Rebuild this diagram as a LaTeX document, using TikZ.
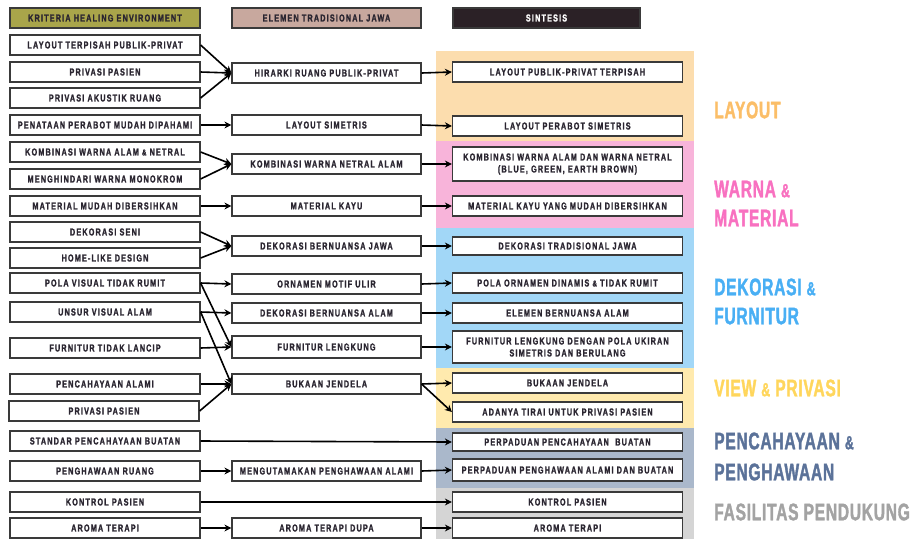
\documentclass[tikz,border=0pt]{standalone}
\usepackage{fontspec}
\setmainfont{Liberation Sans}
\newfontfamily\boxfont[FakeStretch=0.72,LetterSpace=12,FakeBold=1.6]{Liberation Sans}
\newfontfamily\catfont[FakeStretch=0.65,LetterSpace=3,FakeBold=1.5]{Liberation Sans}
\usetikzlibrary{arrows.meta}
\definecolor{textc}{HTML}{2A2530}
\definecolor{edgec}{HTML}{3A3A3A}
\definecolor{hdrA}{HTML}{A9A54A}
\definecolor{hdrB}{HTML}{C8A89E}
\definecolor{hdrC}{HTML}{2B2126}
\definecolor{bandO}{HTML}{FCDDAE}
\definecolor{bandP}{HTML}{F8B4DA}
\definecolor{bandB}{HTML}{A2D7F7}
\definecolor{bandY}{HTML}{FFEAAE}
\definecolor{bandS}{HTML}{AAB8CB}
\definecolor{bandG}{HTML}{D5D5D5}
\definecolor{catO}{HTML}{FBBE68}
\definecolor{catP}{HTML}{F871C0}
\definecolor{catB}{HTML}{49AFF4}
\definecolor{catY}{HTML}{FFD65C}
\definecolor{catS}{HTML}{5B7299}
\definecolor{catG}{HTML}{A3A3A3}
\tikzset{
  box/.style={draw=edgec, line width=1.2pt, fill=white, minimum height=20pt,
    inner sep=1pt, text=textc, align=center,
    font=\boxfont\bfseries\fontsize{10}{12}\selectfont},
  lbox/.style={box, minimum width=190pt},
  mbox/.style={box, minimum width=189pt},
  rbox/.style={box, minimum width=230pt},
  hdr/.style={box, minimum height=20pt},
  arr/.style={-{Stealth[length=7pt,width=7pt]}, line width=1.6pt, black},
  cat/.style={anchor=west, align=left, inner sep=0pt,
    font=\catfont\bfseries\fontsize{24}{29}\selectfont},
}
\newcommand{\smamp}{{\fontsize{19}{20}\selectfont\&}}
\newcommand{\bxamp}{{\fontsize{8.5}{10}\selectfont\&}}
\begin{document}
\begin{tikzpicture}[x=1pt,y=-1pt]
\useasboundingbox (0,0) rectangle (920,539);
% bands
\fill[bandO] (436,51) rectangle (694,141);
\fill[bandP] (436,141) rectangle (694,228);
\fill[bandB] (436,228) rectangle (694,368);
\fill[bandY] (436,368) rectangle (694,428);
\fill[bandS] (436,428) rectangle (694,488);
\fill[bandG] (436,488) rectangle (694,539);
% headers
\node[hdr, fill=hdrA, minimum width=190pt] (h1) at (105,18) {KRITERIA HEALING ENVIRONMENT};
\node[hdr, fill=hdrB, minimum width=189pt] (h2) at (326.5,18) {ELEMEN TRADISIONAL JAWA};
\node[hdr, fill=hdrC, minimum width=187pt, text=white] (h3) at (546.5,18) {SINTESIS};
% left column
\node[lbox] (l1) at (105,45) {LAYOUT TERPISAH PUBLIK-PRIVAT};
\node[lbox] (l2) at (105,72) {PRIVASI PASIEN};
\node[lbox] (l3) at (105,98) {PRIVASI AKUSTIK RUANG};
\node[lbox] (l4) at (105,125) {PENATAAN PERABOT MUDAH DIPAHAMI};
\node[lbox] (l5) at (105,152) {KOMBINASI WARNA ALAM \bxamp\ NETRAL};
\node[lbox] (l6) at (105,179) {MENGHINDARI WARNA MONOKROM};
\node[lbox] (l7) at (105,206) {MATERIAL MUDAH DIBERSIHKAN};
\node[lbox] (l8) at (105,232) {DEKORASI SENI};
\node[lbox] (l9) at (105,258) {HOME-LIKE DESIGN};
\node[lbox] (l10) at (105,283) {POLA VISUAL TIDAK RUMIT};
\node[lbox] (l11) at (105,312) {UNSUR VISUAL ALAM};
\node[lbox] (l12) at (105,348) {FURNITUR TIDAK LANCIP};
\node[lbox] (l13) at (105,384) {PENCAHAYAAN ALAMI};
\node[lbox] (l14) at (104,411) {PRIVASI PASIEN};
\node[lbox] (l15) at (105,441) {STANDAR PENCAHAYAAN BUATAN};
\node[lbox] (l16) at (105,471) {PENGHAWAAN RUANG};
\node[lbox] (l17) at (105,502) {KONTROL PASIEN};
\node[lbox] (l18) at (105,528) {AROMA TERAPI};
% middle column
\node[mbox] (m1) at (326.5,73) {HIRARKI RUANG PUBLIK-PRIVAT};
\node[mbox] (m2) at (326.5,125) {LAYOUT SIMETRIS};
\node[mbox] (m3) at (326.5,164) {KOMBINASI WARNA NETRAL ALAM};
\node[mbox] (m4) at (326.5,206) {MATERIAL KAYU};
\node[mbox] (m5) at (326.5,246) {DEKORASI BERNUANSA JAWA};
\node[mbox] (m6) at (326.5,284) {ORNAMEN MOTIF ULIR};
\node[mbox] (m7) at (326.5,313) {DEKORASI BERNUANSA ALAM};
\node[mbox, minimum height=22pt] (m8) at (326.5,347) {FURNITUR LENGKUNG};
\node[mbox] (m9) at (326.5,384) {BUKAAN JENDELA};
\node[mbox] (m10) at (326.5,471) {MENGUTAMAKAN PENGHAWAAN ALAMI};
\node[mbox] (m11) at (326.5,528) {AROMA TERAPI DUPA};
% right column
\node[rbox] (r1) at (567.5,72) {LAYOUT PUBLIK-PRIVAT TERPISAH};
\node[rbox] (r2) at (567.5,126) {LAYOUT PERABOT SIMETRIS};
\node[rbox, minimum height=34pt] (r3) at (567.5,164) {KOMBINASI WARNA ALAM DAN WARNA NETRAL\\(BLUE, GREEN, EARTH BROWN)};
\node[rbox] (r4) at (567.5,206) {MATERIAL KAYU YANG MUDAH DIBERSIHKAN};
\node[rbox, minimum height=18pt] (r5) at (567.5,246) {DEKORASI TRADISIONAL JAWA};
\node[rbox] (r6) at (567.5,283) {POLA ORNAMEN DINAMIS \bxamp\ TIDAK RUMIT};
\node[rbox] (r7) at (567.5,313) {ELEMEN BERNUANSA ALAM};
\node[rbox, minimum height=32pt] (r8) at (567.5,347) {FURNITUR LENGKUNG DENGAN POLA UKIRAN\\SIMETRIS DAN BERULANG};
\node[rbox] (r9) at (567.5,383) {BUKAAN JENDELA};
\node[rbox] (r10) at (567.5,412) {ADANYA TIRAI UNTUK PRIVASI PASIEN};
\node[rbox, minimum height=18pt] (r11) at (567.5,442) {PERPADUAN PENCAHAYAAN\ \ BUATAN};
\node[rbox, minimum height=22pt] (r12) at (567.5,470) {PERPADUAN PENGHAWAAN ALAMI DAN BUATAN};
\node[rbox] (r13) at (567.5,502) {KONTROL PASIEN};
\node[rbox] (r14) at (567.5,528) {AROMA TERAPI};
% categories
\node[cat, text=catO] (c1) at (714,110) {LAYOUT};
\node[cat, text=catP] (c2) at (714,203.5) {WARNA \smamp\\MATERIAL};
\node[cat, text=catB] (c3) at (714,301.5) {DEKORASI \smamp\\FURNITUR};
\node[cat, text=catY] (c4) at (714,388) {VIEW \smamp\ PRIVASI};
\node[cat, text=catS, font=\catfont\bfseries\fontsize{24}{31}\selectfont] (c5) at (714,456.5) {PENCAHAYAAN \smamp\\PENGHAWAAN};
\node[cat, text=catG] (c6) at (714,512) {FASILITAS PENDUKUNG};
% connectors left -> middle
\draw[arr] (l1.east) -- (m1.west);
\draw[arr] (l2.east) -- (m1.west);
\draw[arr] (l3.east) -- (m1.west);
\draw[arr] (l4.east) -- (m2.west);
\draw[arr] (l5.east) -- (m3.west);
\draw[arr] (l6.east) -- (m3.west);
\draw[arr] (l7.east) -- (m4.west);
\draw[arr] (l8.east) -- (m5.west);
\draw[arr] (l9.east) -- (m5.west);
\draw[arr] (l10.east) -- (m6.west);
\draw[arr] (l10.east) -- (m8.west);
\draw[arr] (l11.east) -- (m7.west);
\draw[arr] (l11.east) -- (m9.west);
\draw[arr] (l12.east) -- (m8.west);
\draw[arr] (l13.east) -- (m9.west);
\draw[arr] (l14.east) -- (m9.west);
\draw[arr] (l15.east) -- (r11.west);
\draw[arr] (l16.east) -- (m10.west);
\draw[arr] (l17.east) -- (r13.west);
\draw[arr] (l18.east) -- (m11.west);
% connectors middle -> right
\draw[arr] (m1.east) -- (r1.west);
\draw[arr] (m2.east) -- (r2.west);
\draw[arr] (m3.east) -- (r3.west);
\draw[arr] (m4.east) -- (r4.west);
\draw[arr] (m5.east) -- (r5.west);
\draw[arr] (m6.east) -- (r6.west);
\draw[arr] (m7.east) -- (r7.west);
\draw[arr] (m8.east) -- (r8.west);
\draw[arr] (m9.east) -- (r9.west);
\draw[arr] (m9.east) -- (r10.west);
\draw[arr] (m10.east) -- (r12.west);
\draw[arr] (m11.east) -- (r14.west);
\end{tikzpicture}
\end{document}
